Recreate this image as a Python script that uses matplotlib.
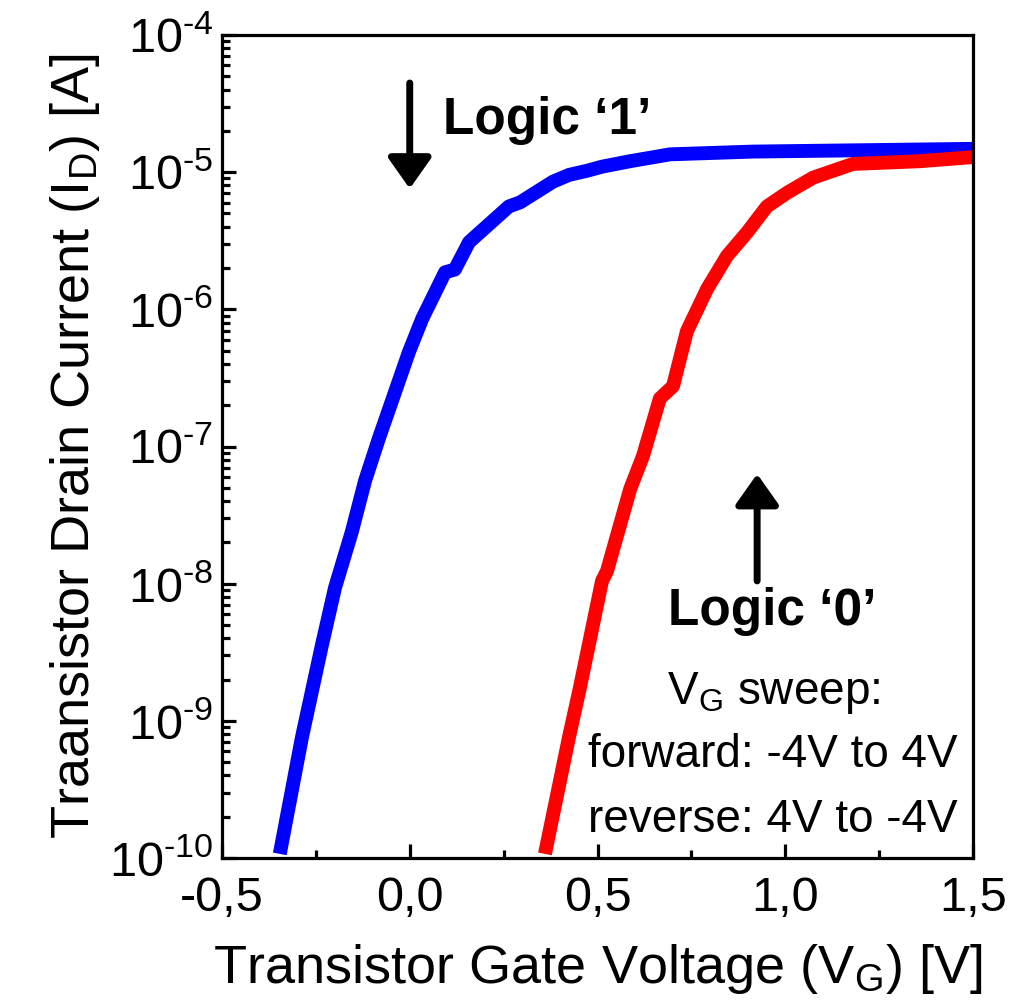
import matplotlib
matplotlib.use("Agg")
import matplotlib.pyplot as plt
import numpy as np

plt.rcParams['font.family'] = ['Liberation Sans', 'DejaVu Sans']
plt.rcParams['mathtext.fontset'] = 'custom'
plt.rcParams['mathtext.rm'] = 'Liberation Sans'
plt.rcParams['mathtext.it'] = 'Liberation Sans'
plt.rcParams['mathtext.bf'] = 'Liberation Sans:bold'

# Forward sweep (blue, logic '1')
blue_v = [-0.346, -0.287, -0.234, -0.199, -0.154, -0.119, -0.082, -0.002, 0.033,
          0.094, 0.12, 0.158, 0.264, 0.294, 0.352, 0.381, 0.424, 0.472, 0.512,
          0.587, 0.693, 0.914, 1.5]
blue_logi = [-9.97, -9.12, -8.45, -8.03, -7.62, -7.25, -6.94, -6.31, -6.07,
             -5.73, -5.71, -5.51, -5.25, -5.22, -5.12, -5.07, -5.02, -4.99, -4.96,
             -4.92, -4.87, -4.85, -4.83]
# Reverse sweep (red, logic '0')
red_v = [0.36, 0.424, 0.453, 0.512, 0.525, 0.587, 0.621, 0.666, 0.701, 0.738,
         0.792, 0.845, 0.898, 0.951, 1.005, 1.074, 1.18, 1.359, 1.5]
red_logi = [-9.97, -9.12, -8.76, -7.98, -7.91, -7.31, -7.07, -6.65, -6.56, -6.16,
            -5.85, -5.61, -5.44, -5.25, -5.15, -5.04, -4.94, -4.92, -4.89]

x_ticks = [-0.5, 0.0, 0.5, 1.0, 1.5]
x_ticklabels = ['-0,5', '0,0', '0,5', '1,0', '1,5']
y_exps = [-10, -9, -8, -7, -6, -5, -4]

fig = plt.figure(figsize=(10.2, 10.0), dpi=100)
ax = fig.add_axes([0.2176, 0.142, 0.7364, 0.823])

ax.plot(blue_v, 10.0 ** np.array(blue_logi), color='#0000ff', lw=10,
        solid_capstyle='butt', solid_joinstyle='round')
ax.plot(red_v, 10.0 ** np.array(red_logi), color='#ff0000', lw=10,
        solid_capstyle='butt', solid_joinstyle='round')

ax.set_yscale('log')
ax.set_xlim(-0.5, 1.5)
ax.set_ylim(1e-10, 1e-4)

ax.set_xticks(x_ticks)
ax.set_xticklabels(x_ticklabels, fontsize=35)
ax.set_xticks([-0.25, 0.25, 0.75, 1.25], minor=True)
ax.set_yticks([10.0 ** e for e in y_exps])
ax.set_yticklabels([r'$\mathregular{10^{\text{-}%d}}$' % (-e) for e in y_exps], fontsize=35)

for s in ax.spines.values():
    s.set_linewidth(2.3)
ax.tick_params(which='major', direction='in', length=10, width=2.3)
ax.tick_params(axis='x', which='major', pad=13)
ax.tick_params(axis='y', which='major', pad=6)
ax.tick_params(which='minor', direction='in', length=6, width=2.3)

ax.set_xlabel(r'Transistor Gate Voltage (V$_\mathregular{G}$) [V]', fontsize=39,
              labelpad=15)
ax.set_ylabel(r'Traansistor Drain Current (I$_\mathregular{D}$) [A]', fontsize=39,
              labelpad=5)

# annotations
astyle = dict(arrowstyle='-|>,head_length=0.85,head_width=0.6', lw=5, color='black',
              mutation_scale=22, shrinkA=0, shrinkB=0)
ax.annotate('', xy=(0.0, 10 ** -5.12), xytext=(0.0, 10 ** -4.35), arrowprops=astyle)
ax.text(0.089, 10 ** -4.62, 'Logic \u20181\u2019', fontsize=37, fontweight='bold',
        ha='left', va='center')
ax.annotate('', xy=(0.925, 10 ** -7.2), xytext=(0.925, 10 ** -7.98), arrowprops=astyle)
ax.text(0.688, 10 ** -8.2, 'Logic \u20180\u2019', fontsize=37, fontweight='bold',
        ha='left', va='center')

ax.text(0.968, 10 ** -8.8, r'V$_\mathregular{G}$ sweep:', fontsize=33, ha='center', va='center')
ax.text(0.968, 10 ** -9.25, 'forward: -4V to 4V', fontsize=33, ha='center', va='center')
ax.text(0.968, 10 ** -9.72, 'reverse: 4V to -4V', fontsize=33, ha='center', va='center')

fig.savefig('out.png', dpi=100)
